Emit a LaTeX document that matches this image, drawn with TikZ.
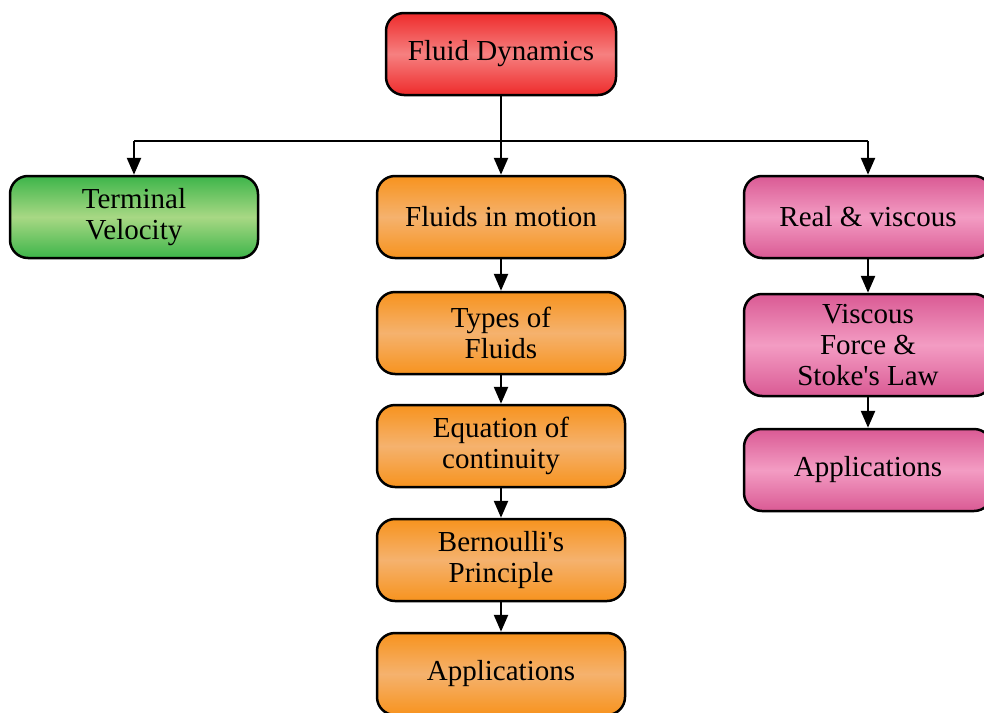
\documentclass[tikz,border=0pt]{standalone}
\usepackage{fontspec}
\setmainfont{Liberation Serif}[Ligatures=TeXOff]
\usetikzlibrary{arrows.meta}
\definecolor{redT}{HTML}{EE2B2B}
\definecolor{redM}{HTML}{F68080}
\definecolor{orT}{HTML}{F7931E}
\definecolor{orM}{HTML}{F5B26E}
\definecolor{grT}{HTML}{3DB54A}
\definecolor{grM}{HTML}{A8D884}
\definecolor{pkT}{HTML}{DA5A94}
\definecolor{pkM}{HTML}{F39CC3}
\tikzset{
  box/.style={draw=black, line width=2.5pt, rounded corners=18pt, minimum width=248pt,
    minimum height=82pt, inner sep=0pt, align=center,
    font=\fontsize{29}{31}\selectfont},
  redbox/.style={box, top color=redT, bottom color=redT, middle color=redM},
  orbox/.style={box, top color=orT, bottom color=orT, middle color=orM},
  grbox/.style={box, top color=grT, bottom color=grT, middle color=grM},
  pkbox/.style={box, top color=pkT, bottom color=pkT, middle color=pkM},
  conn/.style={line width=2.5pt},
  arr/.style={line width=2.5pt, -{Triangle[width=14pt,length=17pt]}}
}
\begin{document}
\begin{tikzpicture}[x=1pt,y=-1pt]
\clip (0,0) rectangle (984,712);
\node[redbox, minimum width=230pt] (fd) at (501,54) {Fluid Dynamics};
\node[grbox] (tv) at (134,217) {Terminal\\Velocity};
\node[orbox] (fm) at (501,217) {Fluids in motion};
\node[pkbox] (rv) at (868,217) {Real \& viscous};
\node[orbox] (tf) at (501,333) {Types of\\Fluids};
\node[orbox] (ec) at (501,446) {Equation of\\continuity};
\node[orbox] (bp) at (501,560) {Bernoulli's\\Principle};
\node[orbox] (ap) at (501,674) {Applications};
\node[pkbox, minimum height=102pt] (vf) at (868,345) {Viscous\\Force \&\\Stoke's Law};
\node[pkbox] (ar) at (868,470) {Applications};
\coordinate (j) at (501,141);
\draw[conn] (fd.south) -- (j);
\draw[conn] (tv.north |- j) -- (rv.north |- j);
\draw[arr] (tv.north |- j) -- (tv.north);
\draw[arr] (j) -- (fm.north);
\draw[arr] (rv.north |- j) -- (rv.north);
\draw[arr] (fm.south) -- (tf.north);
\draw[arr] (tf.south) -- (ec.north);
\draw[arr] (ec.south) -- (bp.north);
\draw[arr] (bp.south) -- (ap.north);
\draw[arr] (rv.south) -- (vf.north);
\draw[arr] (vf.south) -- (ar.north);
\end{tikzpicture}
\end{document}
